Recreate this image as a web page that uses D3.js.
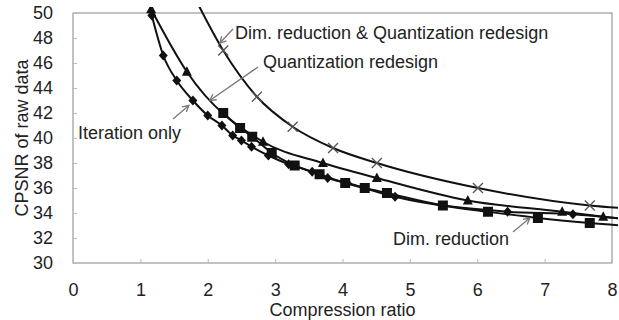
<!DOCTYPE html>
<html>
<head>
<meta charset="utf-8">
<script src="https://cdn.jsdelivr.net/npm/d3@7"></script>
<style>
  body { margin: 0; background: #fff; }
  #myPlot { width: 619px; height: 320px; }
  text { font-family: "Liberation Sans", Arial, sans-serif; fill: #222; }
</style>
</head>
<body>
<div id="myPlot"></div>
<script>
// Data
const xTicks = [0, 1, 2, 3, 4, 5, 6, 7, 8];
const yTicks = [30, 32, 34, 36, 38, 40, 42, 44, 46, 48, 50];

// Iteration only (diamonds)
const iterX = [1.17, 1.34, 1.54, 1.78, 2.0, 2.21, 2.37, 2.5, 2.65, 2.9, 3.2, 3.55, 3.78, 4.07, 4.78, 6.45, 7.42, 8.4];
const iterY = [49.8, 46.6, 44.6, 43.0, 41.8, 41.0, 40.2, 39.8, 39.3, 38.6, 37.9, 37.3, 36.8, 36.4, 35.3, 34.1, 33.9, 33.4];

// Dim. reduction (squares)
const dimX = [2.23, 2.48, 2.66, 2.95, 3.29, 3.66, 4.04, 4.33, 4.66, 5.49, 6.16, 6.9, 7.67, 8.4];
const dimY = [42.0, 40.8, 40.1, 38.8, 37.8, 37.1, 36.4, 36.0, 35.6, 34.6, 34.1, 33.6, 33.2, 32.9];

// Quantization redesign (triangles)
const quantX = [1.16, 1.69, 2.82, 3.71, 4.51, 5.86, 7.26, 7.87, 8.4];
const quantY = [50.3, 45.3, 39.7, 38.0, 36.8, 35.0, 34.1, 33.7, 33.4];

// Dim. reduction & Quantization redesign (crosses)
const bothX = [1.8, 2.23, 2.73, 3.26, 3.86, 4.51, 6.01, 7.67, 8.4];
const bothY = [51.3, 47.0, 43.3, 40.9, 39.2, 38.0, 36.0, 34.6, 34.3];

const seriesNames = ["Iteration only", "Dim. reduction", "Quantization redesign", "Dim. reduction & Quantization redesign"];

const xSize = 619, ySize = 320;
const margin = { left: 73, top: 13, right: 7, bottom: 57 };
const w = xSize - margin.left - margin.right;
const h = ySize - margin.top - margin.bottom;

const svg = d3.select("#myPlot").append("svg")
  .attr("width", xSize).attr("height", ySize);

const x = d3.scaleLinear().domain([0, 8]).range([margin.left, margin.left + w]);
const y = d3.scaleLinear().domain([30, 50]).range([margin.top + h, margin.top]);

// Frame
svg.append("rect")
  .attr("x", x(0)).attr("y", y(50))
  .attr("width", x(8) - x(0)).attr("height", y(30) - y(50))
  .attr("fill", "none").attr("stroke", "#9a9a9a").attr("stroke-width", 1.2);

// Axes (ticks point inward)
const xAxis = svg.append("g")
  .attr("transform", "translate(0," + y(30) + ")")
  .call(d3.axisBottom(x).tickValues(xTicks).tickSize(-4).tickPadding(20).tickFormat(d3.format("d")));
const yAxis = svg.append("g")
  .attr("transform", "translate(" + x(0) + ",0)")
  .call(d3.axisLeft(y).tickValues(yTicks).tickSize(-4).tickPadding(20).tickFormat(d3.format("d")));
[xAxis, yAxis].forEach(a => {
  a.select(".domain").remove();
  a.selectAll(".tick line").attr("stroke", "#bbb");
  a.selectAll(".tick text").style("font-size", "18px").attr("fill", "#222");
});

// Axis titles
svg.append("text")
  .attr("x", x(4)).attr("y", 316)
  .attr("text-anchor", "middle").style("font-size", "18px")
  .text("Compression ratio");
svg.append("text")
  .attr("transform", "translate(28," + y(40) + ") rotate(-90)")
  .attr("text-anchor", "middle").style("font-size", "18px")
  .text("CPSNR of raw data");

// Clip (lines run slightly past the frame, as in the original)
svg.append("clipPath").attr("id", "clip")
  .append("rect")
  .attr("x", x(0)).attr("y", y(50) - 6)
  .attr("width", x(8) - x(0) + 6).attr("height", y(30) - y(50) + 6);

const plot = svg.append("g").attr("clip-path", "url(#clip)");

const line = d3.line()
  .x(d => x(d[0]))
  .y(d => y(d[1]))
  .curve(d3.curveMonotoneX);

function zip(a, b) { return a.map((v, i) => [v, b[i]]); }

const series = [
  { pts: zip(bothX, bothY), shape: "cross" },
  { pts: zip(quantX, quantY), shape: "triangle" },
  { pts: zip(dimX, dimY), shape: "square" },
  { pts: zip(iterX, iterY), shape: "diamond" }
];

series.forEach(s => {
  plot.append("path")
    .attr("d", line(s.pts))
    .attr("fill", "none")
    .attr("stroke", "#111")
    .attr("stroke-width", 2);
});

function shapePath(shape) {
  if (shape == "diamond") return "M0,-5L4.5,0L0,5L-4.5,0Z";
  if (shape == "square") return "M-5,-5L5,-5L5,5L-5,5Z";
  if (shape == "triangle") return "M0,-5.5L5,4L-5,4Z";
  return "M-5,-5L5,5M-5,5L5,-5";
}

series.forEach(s => {
  plot.append("g")
    .selectAll("path")
    .data(s.pts).enter()
    .append("path")
    .attr("transform", d => "translate(" + x(d[0]) + "," + y(d[1]) + ")")
    .attr("d", shapePath(s.shape))
    .attr("fill", s.shape == "cross" ? "none" : "#111")
    .attr("stroke", s.shape == "cross" ? "#555" : "none")
    .attr("stroke-width", 1.3);
});

// Annotations: label text with a small grey arrow pointing at the curve
const notes = [
  { text: seriesNames[3], tx: 235, ty: 39, from: [233, 29], to: [2.18, 47.6] },
  { text: seriesNames[2], tx: 263, ty: 68, from: [258, 67], to: [2.03, 43.0] },
  { text: seriesNames[0], tx: 78, ty: 139, from: [173, 119], to: [1.72, 42.6] },
  { text: seriesNames[1], tx: 393, ty: 245, from: [513, 232], to: [6.78, 33.6] }
];

notes.forEach(n => {
  const x2 = x(n.to[0]), y2 = y(n.to[1]);
  const ang = Math.atan2(y2 - n.from[1], x2 - n.from[0]);
  const a1 = ang + Math.PI - 0.5, a2 = ang + Math.PI + 0.5;
  svg.append("line")
    .attr("x1", n.from[0]).attr("y1", n.from[1])
    .attr("x2", x2).attr("y2", y2)
    .attr("stroke", "#777").attr("stroke-width", 1.3);
  svg.append("path")
    .attr("d", "M" + (x2 + 7 * Math.cos(a1)) + "," + (y2 + 7 * Math.sin(a1)) +
      "L" + x2 + "," + y2 +
      "L" + (x2 + 7 * Math.cos(a2)) + "," + (y2 + 7 * Math.sin(a2)))
    .attr("fill", "none").attr("stroke", "#777").attr("stroke-width", 1.3);
  svg.append("text")
    .attr("x", n.tx).attr("y", n.ty)
    .style("font-size", "18px")
    .text(n.text);
});
</script>
</body>
</html>
